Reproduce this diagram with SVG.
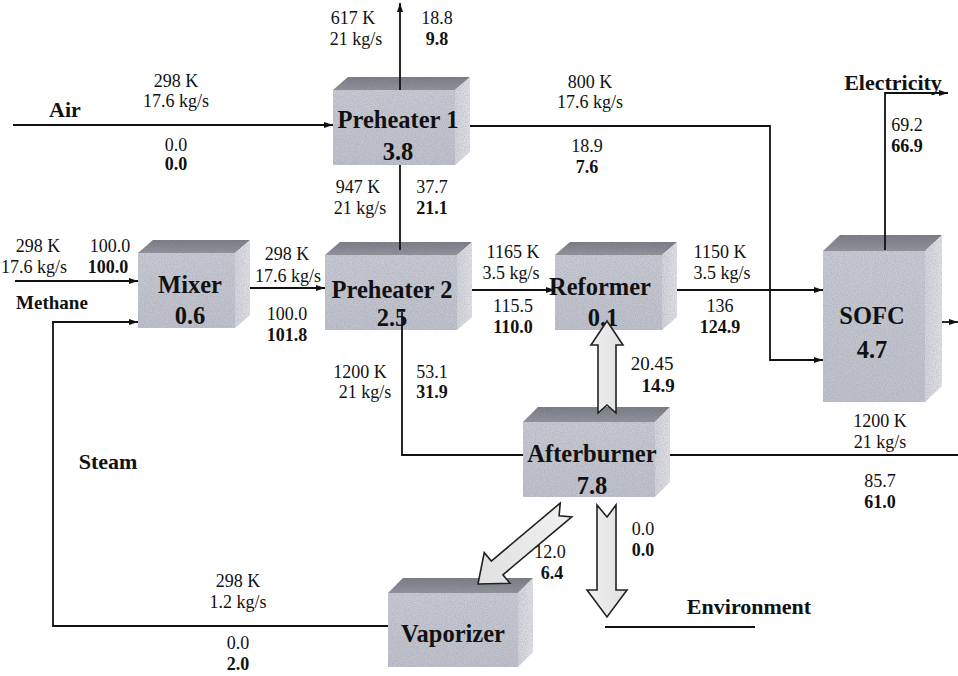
<svg xmlns="http://www.w3.org/2000/svg" width="958" height="676" viewBox="0 0 958 676" font-family="Liberation Serif, Times New Roman, serif">
<style>
.n{font-size:18px;text-anchor:middle;fill:#111}
.b{font-size:18px;font-weight:bold;text-anchor:middle;fill:#111}
.lbl{font-size:22px;font-weight:bold;text-anchor:middle;fill:#111}
.node{font-size:24.5px;font-weight:bold;text-anchor:middle;fill:#111}
.front{fill:url(#gFront);filter:url(#grain)}
.top{fill:url(#gTop);filter:url(#grain)}
.side{fill:url(#gSide);filter:url(#grain)}
.ln{fill:none;stroke:#111;stroke-width:1.8}
.arr{marker-end:url(#ah)}
.fat{fill:url(#gFat);stroke:#222;stroke-width:1.6;stroke-linejoin:miter}
</style>
<defs>
<linearGradient id="gFront" x1="0" y1="0" x2="0" y2="1"><stop offset="0" stop-color="#c9cbd4"/><stop offset="1" stop-color="#bfc2cc"/></linearGradient>
<linearGradient id="gTop" x1="0" y1="0" x2="0" y2="1"><stop offset="0" stop-color="#74777f"/><stop offset="1" stop-color="#8e9098"/></linearGradient>
<linearGradient id="gSide" x1="0" y1="0" x2="1" y2="0"><stop offset="0" stop-color="#d4d6dd"/><stop offset="1" stop-color="#e2e3e8"/></linearGradient>
<linearGradient id="gFat" x1="0" y1="0" x2="1" y2="0"><stop offset="0" stop-color="#f0f0f0"/><stop offset="1" stop-color="#e0e0e0"/></linearGradient>
<filter id="grain" x="0" y="0" width="100%" height="100%">
<feTurbulence type="fractalNoise" baseFrequency="0.9" numOctaves="2" seed="3" result="n"/>
<feColorMatrix in="n" type="matrix" values="0 0 0 0 0.3  0 0 0 0 0.3  0 0 0 0 0.35  0.9 0 0 0 -0.3" result="g"/>
<feComposite in="g" in2="SourceGraphic" operator="in" result="gm"/>
<feMerge><feMergeNode in="SourceGraphic"/><feMergeNode in="gm"/></feMerge>
</filter>
<marker id="ah" markerWidth="10" markerHeight="8" refX="9" refY="4" orient="auto" markerUnits="userSpaceOnUse">
<path d="M0,1 L9,4 L0,7 Z" fill="#111"/>
</marker>
</defs>
<rect width="958" height="676" fill="#ffffff"/>

<g id="preheater1" font-family="Liberation Serif, serif">
<polygon class="top" points="333,90 348,77 470,77 455,90"/>
<polygon class="side" points="455,90 470,77 470,152 455,165"/>
<rect class="front" x="333" y="90" width="122" height="75"/>
<text class="node" x="398" y="128">Preheater 1</text>
<text class="node" x="398" y="160">3.8</text>
</g>
<g id="mixer" font-family="Liberation Serif, serif">
<polygon class="top" points="138,253 153,240 250,240 235,253"/>
<polygon class="side" points="235,253 250,240 250,315 235,328"/>
<rect class="front" x="138" y="253" width="97" height="75"/>
<text class="node" x="190" y="293">Mixer</text>
<text class="node" x="190" y="324">0.6</text>
</g>
<g id="preheater2" font-family="Liberation Serif, serif">
<polygon class="top" points="325,255 340,242 472,242 457,255"/>
<polygon class="side" points="457,255 472,242 472,317 457,330"/>
<rect class="front" x="325" y="255" width="132" height="75"/>
<text class="node" x="392" y="298">Preheater 2</text>
<text class="node" x="392" y="326">2.5</text>
</g>
<g id="reformer" font-family="Liberation Serif, serif">
<polygon class="top" points="555,255 570,242 677,242 662,255"/>
<polygon class="side" points="662,255 677,242 677,317 662,330"/>
<rect class="front" x="555" y="255" width="107" height="75"/>
<text class="node" x="600" y="295">Reformer</text>
<text class="node" x="603" y="326">0.1</text>
</g>
<g id="sofc" font-family="Liberation Serif, serif">
<polygon class="top" points="823,251 840,235 942,235 925,251"/>
<polygon class="side" points="925,251 942,235 942,386 925,402"/>
<rect class="front" x="823" y="251" width="102" height="151"/>
<text class="node" x="872" y="324">SOFC</text>
<text class="node" x="872" y="358">4.7</text>
</g>
<g id="afterburner" font-family="Liberation Serif, serif">
<polygon class="top" points="523,422 538,407 670,407 655,422"/>
<polygon class="side" points="655,422 670,407 670,482 655,497"/>
<rect class="front" x="523" y="422" width="132" height="75"/>
<text class="node" x="592" y="462">Afterburner</text>
<text class="node" x="592" y="494">7.8</text>
</g>
<g id="vaporizer" font-family="Liberation Serif, serif">
<polygon class="top" points="388,593 403,578 533,578 518,593"/>
<polygon class="side" points="518,593 533,578 533,652 518,667"/>
<rect class="front" x="388" y="593" width="130" height="74"/>
<text class="node" x="453" y="642">Vaporizer</text>
</g>

<g id="connectors">
<line class="ln arr" x1="13" y1="125" x2="333" y2="125"/>
<line class="ln arr" x1="400" y1="90" x2="400" y2="3"/>
<line class="ln" x1="400" y1="165" x2="400" y2="250"/>
<polyline class="ln arr" points="470,126 770,126 770,360 823,360"/>
<line class="ln arr" x1="15" y1="281" x2="138" y2="281"/>
<line class="ln arr" x1="250" y1="288" x2="325" y2="288"/>
<line class="ln arr" x1="472" y1="290" x2="555" y2="290"/>
<line class="ln arr" x1="677" y1="290" x2="823" y2="290"/>
<polyline class="ln arr" points="885,250 885,93 948,93"/>
<line class="ln arr" x1="942" y1="322" x2="958" y2="322"/>
<polyline class="ln" points="402,312 402,455 523,455"/>
<line class="ln" x1="670" y1="455" x2="958" y2="455"/>
<polyline class="ln arr" points="388,626 53,626 53,322 138,322"/>
<line class="ln" x1="605" y1="627" x2="755" y2="627"/>
<polygon class="fat" points="598,413 598,345 591,345 607,321 623,345 616,345 616,413 607,405"/>
<polygon class="fat" points="597,505 607,517 616,505 616,590 627,590 607,617 587,590 597,590"/>
<polygon class="fat" transform="translate(566,510) rotate(139.94)" points="0,-9 90,-9 90,-20 115,0 90,20 90,9 0,9 9,0"/>
</g>

<g id="labels" font-family="Liberation Serif, serif">
<text class="n" x="353" y="24">617 K</text>
<text class="n" x="356" y="45">21 kg/s</text>
<text class="n" x="437" y="24">18.8</text>
<text class="b" x="437" y="45">9.8</text>
<text class="n" x="176" y="87">298 K</text>
<text class="n" x="176" y="107">17.6 kg/s</text>
<text class="lbl" x="65" y="117">Air</text>
<text class="n" x="176" y="151">0.0</text>
<text class="b" x="176" y="170">0.0</text>
<text class="n" x="590" y="88">800 K</text>
<text class="n" x="590" y="108">17.6 kg/s</text>
<text class="n" x="587" y="152">18.9</text>
<text class="b" x="587" y="173">7.6</text>
<text class="lbl" x="893" y="90">Electricity</text>
<text class="n" x="907" y="131">69.2</text>
<text class="b" x="907" y="152">66.9</text>
<text class="n" x="358" y="193">947 K</text>
<text class="n" x="360" y="214">21 kg/s</text>
<text class="n" x="432" y="193">37.7</text>
<text class="b" x="432" y="214">21.1</text>
<text class="n" x="38" y="252">298 K</text>
<text class="n" x="34" y="273">17.6 kg/s</text>
<text class="n" x="110" y="252">100.0</text>
<text class="b" x="108" y="273">100.0</text>
<text font-size="19" font-weight="bold" text-anchor="middle" fill="#111" x="52" y="309">Methane</text>
<text class="n" x="287" y="260">298 K</text>
<text class="n" x="288" y="282">17.6 kg/s</text>
<text class="n" x="287" y="320">100.0</text>
<text class="b" x="287" y="341">101.8</text>
<text class="n" x="513" y="258">1165 K</text>
<text class="n" x="511" y="279">3.5 kg/s</text>
<text class="n" x="513" y="312">115.5</text>
<text class="b" x="513" y="333">110.0</text>
<text class="n" x="720" y="258">1150 K</text>
<text class="n" x="722" y="279">3.5 kg/s</text>
<text class="n" x="720" y="312">136</text>
<text class="b" x="720" y="333">124.9</text>
<text class="n" x="360" y="378">1200 K</text>
<text class="n" x="365" y="398">21 kg/s</text>
<text class="n" x="432" y="378">53.1</text>
<text class="b" x="432" y="398">31.9</text>
<text class="n" x="652" y="370" style="font-size:19px">20.45</text>
<text class="b" x="658" y="392" style="font-size:19px">14.9</text>
<text class="n" x="880" y="427">1200 K</text>
<text class="n" x="880" y="448">21 kg/s</text>
<text class="n" x="880" y="487">85.7</text>
<text class="b" x="880" y="508">61.0</text>
<text class="lbl" x="108" y="469">Steam</text>
<text class="n" x="550" y="558">12.0</text>
<text class="b" x="552" y="579">6.4</text>
<text class="n" x="643" y="535">0.0</text>
<text class="b" x="643" y="556">0.0</text>
<text class="n" x="238" y="587">298 K</text>
<text class="n" x="238" y="608">1.2 kg/s</text>
<text class="n" x="238" y="649">0.0</text>
<text class="b" x="238" y="670">2.0</text>
<text class="lbl" x="749" y="614">Environment</text>
</g>
</svg>
